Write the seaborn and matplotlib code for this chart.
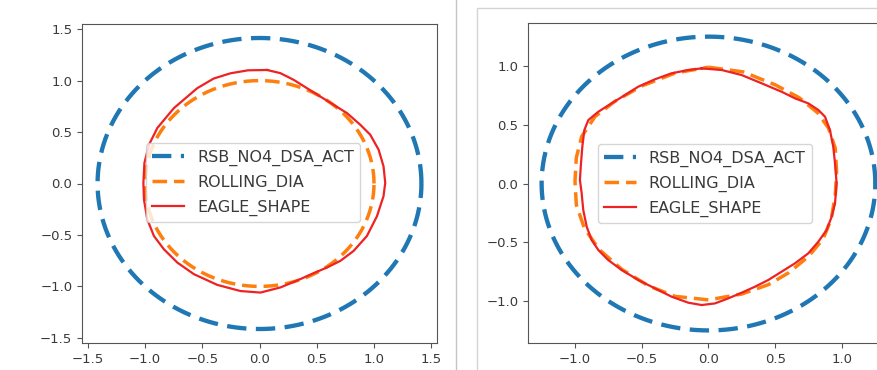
import numpy as np
import matplotlib
matplotlib.use("Agg")
import matplotlib.pyplot as plt
from matplotlib.lines import Line2D
from matplotlib.patches import Rectangle
import seaborn as sns

# ---------------- data ----------------
series_names = ["RSB_NO4_DSA_ACT", "ROLLING_DIA", "EAGLE_SHAPE"]

# left panel
left_act_radius = 1.414
left_rolling_radius = 1.0
left_eagle_x = [0.067, 0.183, 0.299, 0.415, 0.531, 0.647, 0.764, 0.880, 0.967, 1.040, 1.083,
                1.098, 1.083, 1.026, 0.938, 0.822, 0.706, 0.590, 0.473, 0.357, 0.183, 0.008,
                -0.166, -0.369, -0.573, -0.718, -0.835, -0.922, -0.980, -1.009, -1.014,
                -1.005, -0.965, -0.892, -0.747, -0.544, -0.400, -0.253, -0.100]
left_eagle_y = [1.103, 1.072, 1.007, 0.926, 0.845, 0.765, 0.684, 0.571, 0.474, 0.329, 0.167,
                0.007, -0.123, -0.317, -0.510, -0.655, -0.752, -0.816, -0.871, -0.929, -1.010,
                -1.060, -1.045, -0.985, -0.881, -0.768, -0.639, -0.510, -0.348, -0.155, 0.007,
                0.200, 0.377, 0.540, 0.733, 0.926, 1.020, 1.071, 1.100]

# right panel
right_act_radius = 1.25
right_rolling_x = [0.00, 0.26, 0.50, 0.68, 0.82, 0.90, 0.95, 0.96, 0.95, 0.92, 0.86, 0.75,
                   0.60, 0.45, 0.25, 0.00, -0.25, -0.45, -0.65, -0.82, -0.93, -0.99, -1.00,
                   -0.99, -0.95, -0.85, -0.70, -0.50, -0.25]
right_rolling_y = [0.99, 0.95, 0.84, 0.73, 0.60, 0.47, 0.30, 0.10, -0.10, -0.30, -0.47, -0.62,
                   -0.76, -0.86, -0.94, -0.99, -0.96, -0.87, -0.73, -0.56, -0.38, -0.18, 0.02,
                   0.22, 0.40, 0.57, 0.70, 0.83, 0.94]
right_eagle_x = [-0.051, 0.099, 0.249, 0.398, 0.548, 0.648, 0.748, 0.823, 0.873, 0.910, 0.935,
                 0.948, 0.960, 0.948, 0.923, 0.885, 0.823, 0.748, 0.648, 0.548, 0.448, 0.348,
                 0.249, 0.149, 0.049, -0.051, -0.151, -0.276, -0.401, -0.526, -0.650, -0.751,
                 -0.825, -0.875, -0.912, -0.938, -0.950, -0.963, -0.955, -0.945, -0.930,
                 -0.900, -0.825, -0.725, -0.625, -0.526, -0.401, -0.276, -0.151]
right_eagle_y = [0.980, 0.966, 0.923, 0.853, 0.781, 0.725, 0.682, 0.626, 0.569, 0.455, 0.313,
                 0.172, 0.002, -0.169, -0.282, -0.396, -0.495, -0.594, -0.679, -0.750, -0.821,
                 -0.878, -0.929, -0.977, -1.020, -1.034, -1.014, -0.963, -0.892, -0.821,
                 -0.736, -0.651, -0.566, -0.481, -0.368, -0.226, -0.083, 0.030, 0.172, 0.313,
                 0.455, 0.540, 0.611, 0.683, 0.753, 0.824, 0.887, 0.938, 0.966]

left_ticks = [-1.5, -1.0, -0.5, 0.0, 0.5, 1.0, 1.5]
right_ticks = [-1.0, -0.5, 0.0, 0.5, 1.0]

# ---------------- style ----------------
plt.rcParams.update({
    "font.family": ["DejaVu Sans"],
    "axes.edgecolor": "#555555",
    "xtick.color": "#555555",
    "ytick.color": "#555555",
    "xtick.labelcolor": "#3a3a3a",
    "ytick.labelcolor": "#3a3a3a",
    "xtick.labelsize": 9.5,
    "ytick.labelsize": 9.5,
    "legend.labelcolor": "#3a3a3a",
})

blue = "#1f77b4"
orange = "#ff7f0e"
red = "#ee2222"


def closed(xs, ys):
    return list(xs) + [xs[0]], list(ys) + [ys[0]]


def circle(r):
    t = np.linspace(0, 2 * np.pi, 361)
    return r * np.cos(t), r * np.sin(t)


def draw(ax, act_r, roll_x, roll_y, eagle_x, eagle_y, anchor):
    cx, cy = circle(act_r)
    sns.lineplot(x=cx, y=cy, sort=False, estimator=None, ax=ax, color=blue,
                 lw=3.1, linestyle=(0, (4.5, 2.2)), label=series_names[0])
    rx, ry = closed(roll_x, roll_y)
    sns.lineplot(x=rx, y=ry, sort=False, estimator=None, ax=ax, color=orange,
                 lw=2.5, linestyle=(0, (4.2, 2.0)), label=series_names[1])
    ex, ey = closed(eagle_x, eagle_y)
    sns.lineplot(x=ex, y=ey, sort=False, estimator=None, ax=ax, color=red,
                 lw=1.6, linestyle="-", label=series_names[2])
    ax.legend(loc="center", bbox_to_anchor=anchor, fontsize=11.5, labelspacing=0.55)
    ax.set_xlabel("")
    ax.set_ylabel("")


fig = plt.figure(figsize=(8.77, 3.70), dpi=100)

# left panel
axL = fig.add_axes([82 / 877, 27 / 370, 355 / 877, 319 / 370])
lrx, lry = circle(left_rolling_radius)
draw(axL, left_act_radius, lrx[:-1], lry[:-1], left_eagle_x, left_eagle_y, (0.482, 0.502))
axL.set_xlim(-1.55, 1.55)
axL.set_ylim(-1.55, 1.55)
axL.set_xticks(left_ticks)
axL.set_yticks(left_ticks)

# right panel (cropped at figure edge)
axR = fig.add_axes([528 / 877, 27 / 370, 364 / 877, 320 / 370])
draw(axR, right_act_radius, right_rolling_x, right_rolling_y, right_eagle_x, right_eagle_y,
     (0.486, 0.498))
axR.set_xlim(-1.352, 1.375)
axR.set_ylim(-1.357, 1.366)
axR.set_xticks(right_ticks)
axR.set_yticks(right_ticks)

# screenshot decorations: separator and window frame
fig.add_artist(Line2D([456 / 877, 456 / 877], [0, 1], color="#c4c4c4", lw=1.0))
fig.add_artist(Rectangle((477 / 877, -0.1), 0.6, (362 / 370) + 0.1, fill=False,
                         edgecolor="#d4d4d4", lw=1.0))

fig.savefig("out.png", dpi=100)
